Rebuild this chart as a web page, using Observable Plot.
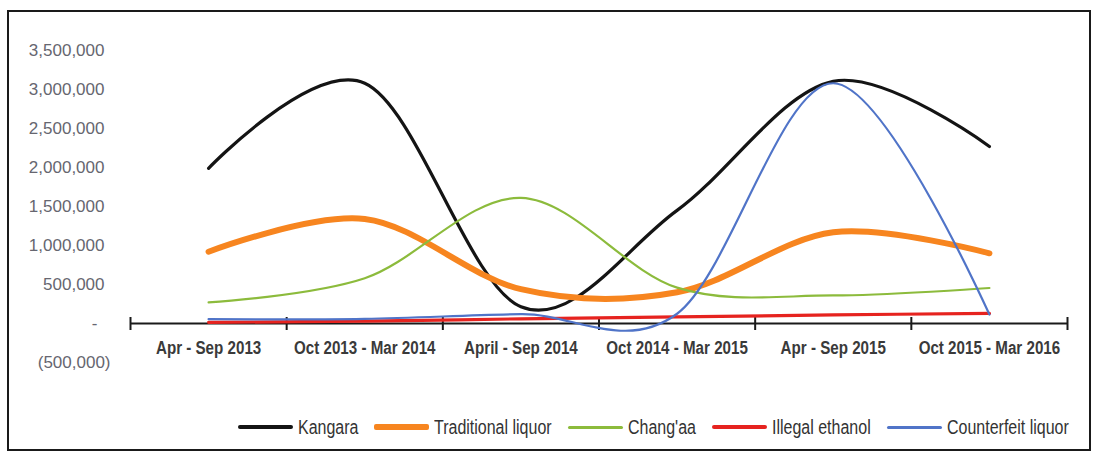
<!DOCTYPE html>
<html>
<head>
<meta charset="utf-8">
<script src="https://cdn.jsdelivr.net/npm/d3@7"></script>
<script src="https://cdn.jsdelivr.net/npm/@observablehq/plot@0.6"></script>
<style>
  html, body { margin: 0; padding: 0; background: #fff; }
  #frame {
    position: absolute; left: 7px; top: 10px; width: 1084px; height: 441px;
    box-sizing: border-box; border: 2px solid #1a1a1a; background: #fff;
  }
  #legend {
    position: absolute; left: 229px; top: 402px; height: 26px;
    display: flex; align-items: center; white-space: nowrap;
    font-family: "Liberation Sans", Arial, sans-serif;
    font-size: 19.5px; color: #333;
  }
  .item { display: flex; align-items: center; margin-right: 16px; }
  .sw { width: 55px; margin-right: 5px; border-radius: 2px; }
  .lt { display: inline-block; transform: scaleX(0.82); transform-origin: 0 50%; }
</style>
</head>
<body>
<div id="frame"><div id="chart"></div><div id="legend"></div></div>
<script>
// ---- data ----
const periods = ["Apr - Sep 2013", "Oct 2013 - Mar 2014", "April - Sep 2014", "Oct 2014 - Mar 2015", "Apr - Sep 2015", "Oct 2015 - Mar 2016"];
const kangara           = [1990000, 3080000, 215000, 1450000, 3105000, 2270000];
const traditionalLiquor = [ 920000, 1340000, 440000,  400000, 1170000,  900000];
const changaa           = [ 270000,  580000, 1610000, 460000,  360000,  455000];
const illegalEthanol    = [  15000,   30000,  60000,   85000,  110000,  130000];
const counterfeitLiquor = [  55000,   60000, 120000,  125000, 3080000,  115000];
const seriesNames  = ["Kangara", "Traditional liquor", "Chang'aa", "Illegal ethanol", "Counterfeit liquor"];
const seriesValues = [kangara, traditionalLiquor, changaa, illegalEthanol, counterfeitLiquor];
const seriesColors = ["#141414", "#f7851f", "#8cbb3c", "#e6231f", "#5074c8"];
const seriesWidths = [3.2, 6, 2.2, 3.2, 2.2];
const yTicksPos = [3500000, 3000000, 2500000, 2000000, 1500000, 1000000, 500000];
const yTickZero = [0];
const yTicksNeg = [-500000];

// ---- build table ----
const rows = seriesNames.flatMap((s, k) => seriesValues[k].map((v, i) => ({series: s, i, value: v})));
const bounds = d3.range(periods.length + 1).map(i => i - 0.5);
const fmt = d3.format(",");
const labelFont = "Liberation Sans, Arial, sans-serif";
const squeeze = 0.82;

const chart = Plot.plot({
  width: 1080,
  height: 395,
  marginLeft: 121,
  marginRight: 22,
  marginTop: 38,
  marginBottom: 45,
  style: {fontFamily: labelFont, fontSize: "17px", color: "#666670", background: "transparent"},
  x: {domain: [-0.5, periods.length - 0.5], axis: null},
  y: {domain: [-500000, 3500000], axis: null},
  marks: [
    Plot.axisY(yTicksPos, {tickSize: 0, tickPadding: 26, tickFormat: fmt, fontSize: 17, label: null}),
    Plot.axisY(yTickZero, {tickSize: 0, tickPadding: 33, tickFormat: () => "-", fontSize: 17, label: null}),
    Plot.axisY(yTicksNeg, {tickSize: 0, tickPadding: 20, tickFormat: d => "(" + fmt(-d) + ")", fontSize: 17, label: null}),
    Plot.ruleY([0], {x1: -0.5, x2: periods.length - 0.5, stroke: "#1a1a1a", strokeWidth: 2}),
    Plot.ruleX(bounds, {x: d => d, y1: 0, y2: 0, insetTop: -6, insetBottom: -7, stroke: "#1a1a1a", strokeWidth: 2}),
    Plot.text(periods, {x: (d, i) => i, y: 0, dy: 25, text: d => d, fontWeight: "bold", fontSize: 18.5, fill: "#3a3a3a", className: "xlab"}),
    ...seriesNames.map((s, k) =>
      Plot.lineY(rows.filter(r => r.series === s), {
        x: "i", y: "value", curve: "cardinal", tension: 0,
        stroke: seriesColors[k], strokeWidth: seriesWidths[k], strokeLinecap: "round"
      })
    )
  ]
});
// condense the category labels horizontally (narrow face look)
d3.select(chart).selectAll(".xlab text").each(function () {
  const t = this.getAttribute("transform") || "";
  this.setAttribute("transform", t + ` scale(${squeeze},1)`);
});
document.getElementById("chart").appendChild(chart);

// ---- legend ----
const legend = document.getElementById("legend");
seriesNames.forEach((s, k) => {
  const item = document.createElement("div");
  item.className = "item";
  const sw = document.createElement("span");
  sw.className = "sw";
  sw.style.height = Math.max(3, seriesWidths[k]) + "px";
  sw.style.background = seriesColors[k];
  const t = document.createElement("span");
  t.className = "lt";
  t.textContent = s;
  item.appendChild(sw); item.appendChild(t);
  legend.appendChild(item);
  const w = t.getBoundingClientRect().width; // already scaled width
  t.style.marginRight = (w - w / squeeze) + "px";
});
</script>
</body>
</html>
